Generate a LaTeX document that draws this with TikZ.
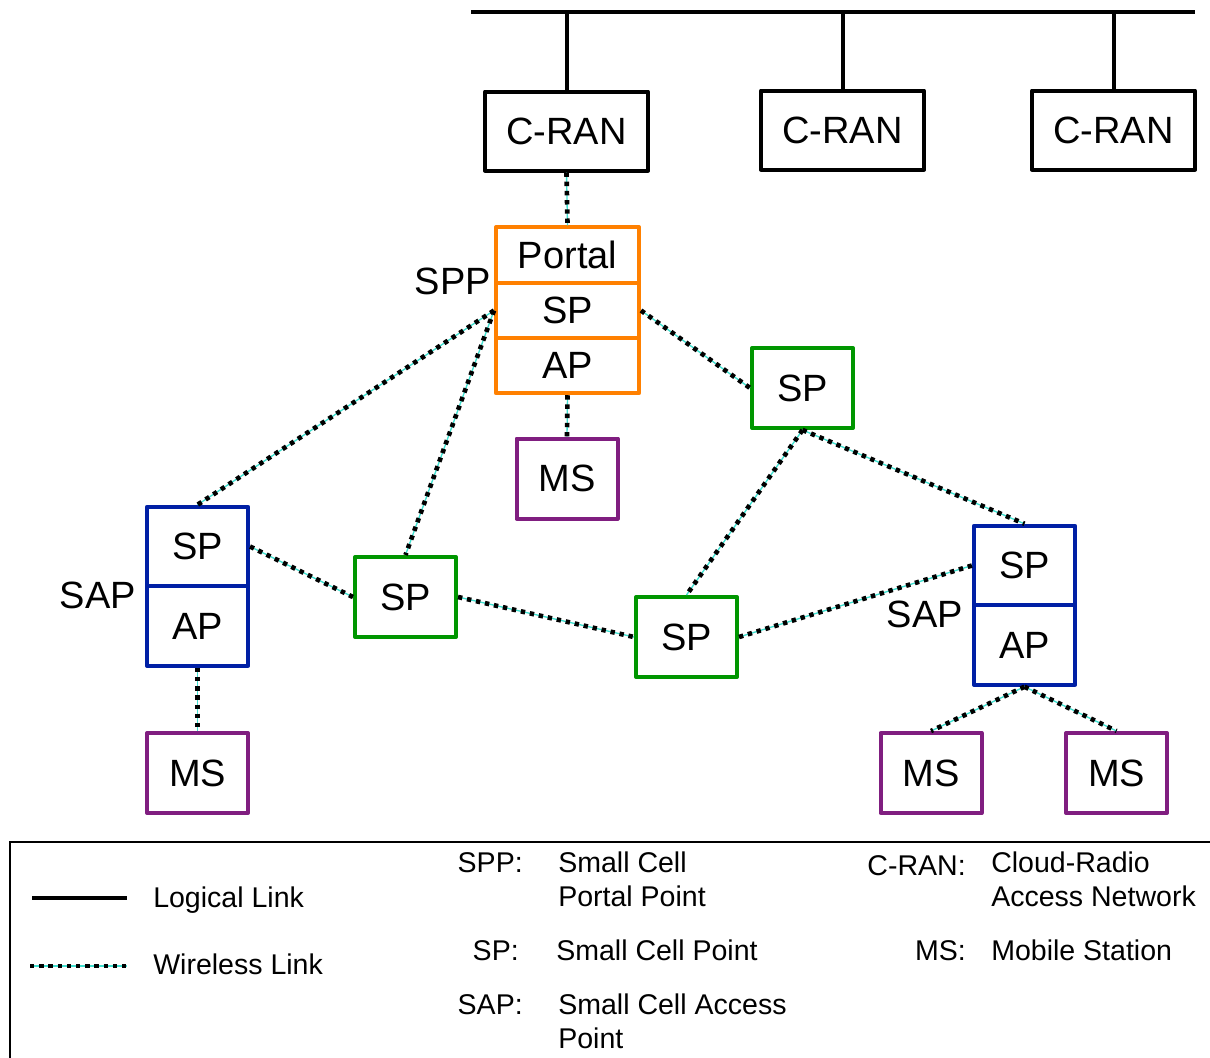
\documentclass[tikz,border=0pt]{standalone}
\usepackage{fontspec}
\setmainfont{Liberation Sans}
\definecolor{orangeC}{RGB}{255,128,0}
\definecolor{greenC}{RGB}{0,150,0}
\definecolor{blueC}{RGB}{0,32,165}
\definecolor{purpleC}{RGB}{128,30,128}
\definecolor{tealC}{RGB}{64,224,208}
\newcommand{\bxfont}{\fontsize{28.5}{34}\selectfont}
\newcommand{\lgfont}{\fontsize{21.4}{25}\selectfont}
\tikzset{
  box/.style={draw, rectangle, line width=3pt, line join=round, inner sep=0pt,
    minimum width=75.75pt, minimum height=60pt, font=\bxfont},
  cran/.style={box, draw=black, minimum width=122.25pt, minimum height=59.25pt},
  obox/.style={box, draw=orangeC, minimum width=107.25pt, minimum height=41.6pt},
  gbox/.style={box, draw=greenC},
  bbox/.style={box, draw=blueC, minimum height=59.6pt},
  mbox/.style={box, draw=purpleC},
  lbl/.style={font=\bxfont, inner sep=0pt},
  lg/.style={font=\lgfont, inner sep=0pt},
  logical/.style={draw=black, line width=3pt},
  wl/.style={draw=black, line width=3.5pt, dash pattern=on 3.3pt off 3.6pt,
    preaction={draw=tealC, line width=1pt, solid}},
}
\begin{document}
\begin{tikzpicture}[x=0.75pt,y=-0.75pt]
\useasboundingbox (0,0) rectangle (1210,1057);
\clip (0,0) rectangle (1210,1057);

% backbone
\coordinate (busL) at (471,12);
\coordinate (busR) at (1195,12);
\draw[logical] (busL) -- (busR);

\node[cran] (cran1) at (566.5,131) {C-RAN};
\node[cran] (cran2) at (842.5,130) {C-RAN};
\node[cran] (cran3) at (1113.5,130) {C-RAN};
\draw[logical] (cran1.north) -- (cran1.north |- busL);
\draw[logical] (cran2.north) -- (cran2.north |- busL);
\draw[logical] (cran3.north) -- (cran3.north |- busL);

% portal stack
\node[obox] (portal) at (567.5,255) {Portal};
\node[obox] (osp) at (567.5,310.5) {SP};
\node[obox] (oap) at (567.5,365.5) {AP};
\node[lbl, anchor=base east] (spplbl) at (491,294) {SPP};

\node[mbox] (ms0) at (567,478.5) {MS};

% green SPs
\node[gbox] (g0) at (802.5,388) {SP};
\node[gbox] (g1) at (405.5,597) {SP};
\node[gbox] (g2) at (686.5,637) {SP};

% left SAP
\node[bbox] (lsp) at (197.5,546.5) {SP};
\node[bbox] (lap) at (197.5,626) {AP};
\node[lbl, anchor=base east] (saplbl1) at (136,608) {SAP};
\node[mbox] (msl) at (197.5,773) {MS};

% right SAP
\node[bbox] (rsp) at (1024.5,565.5) {SP};
\node[bbox] (rap) at (1024.5,645) {AP};
\node[lbl, anchor=base east] (saplbl2) at (963,627) {SAP};
\node[mbox] (msr1) at (931,773) {MS};
\node[mbox] (msr2) at (1116.5,773) {MS};

% wireless links
\draw[wl] (cran1.south) -- (portal.north);
\draw[wl] (oap.south) -- (ms0.north);
\draw[wl] (osp.west) -- (lsp.north);
\draw[wl] (osp.west) -- (g1.north);
\draw[wl] (osp.east) -- (g0.west);
\draw[wl] (lsp.east) -- (g1.west);
\draw[wl] (g1.east) -- (g2.west);
\draw[wl] (g0.south) -- (g2.north);
\draw[wl] (g0.south) -- (rsp.north);
\draw[wl] (g2.east) -- (rsp.west);
\draw[wl] (lap.south) -- (msl.north);
\draw[wl] (rap.south) -- (msr1.north);
\draw[wl] (rap.south) -- (msr2.north);

% legend
\draw[line width=1.5pt] (1230,842) -- (10,842) -- (10,1080);
\coordinate (ll1) at (32,898);
\coordinate (ll2) at (127,898);
\draw[logical] (ll1) -- (ll2);
\node[lg, anchor=base west] (tl1) at (153,907) {Logical Link};
\coordinate (wl1) at (30,966);
\coordinate (wl2) at (127,966);
\draw[wl] (wl1) -- (wl2);
\node[lg, anchor=base west] (tl2) at (153,974) {Wireless Link};

\node[lg, anchor=base east] (k1) at (523,872) {SPP:};
\node[lg, anchor=base west] (v1a) at (558,872) {Small Cell};
\node[lg, anchor=base west] (v1b) at (558,906) {Portal Point};
\node[lg, anchor=base east] (k2) at (519,960) {SP:};
\node[lg, anchor=base west] (v2) at (556,960) {Small Cell Point};
\node[lg, anchor=base east] (k3) at (523,1014) {SAP:};
\node[lg, anchor=base west] (v3a) at (558,1014) {Small Cell Access};
\node[lg, anchor=base west] (v3b) at (558,1048) {Point};
\node[lg, anchor=base east] (k4) at (966,875) {C-RAN:};
\node[lg, anchor=base west] (v4a) at (991,872) {Cloud-Radio};
\node[lg, anchor=base west] (v4b) at (991,906) {Access Network};
\node[lg, anchor=base east] (k5) at (966,960) {MS:};
\node[lg, anchor=base west] (v5) at (991,960) {Mobile Station};
\end{tikzpicture}
\end{document}
